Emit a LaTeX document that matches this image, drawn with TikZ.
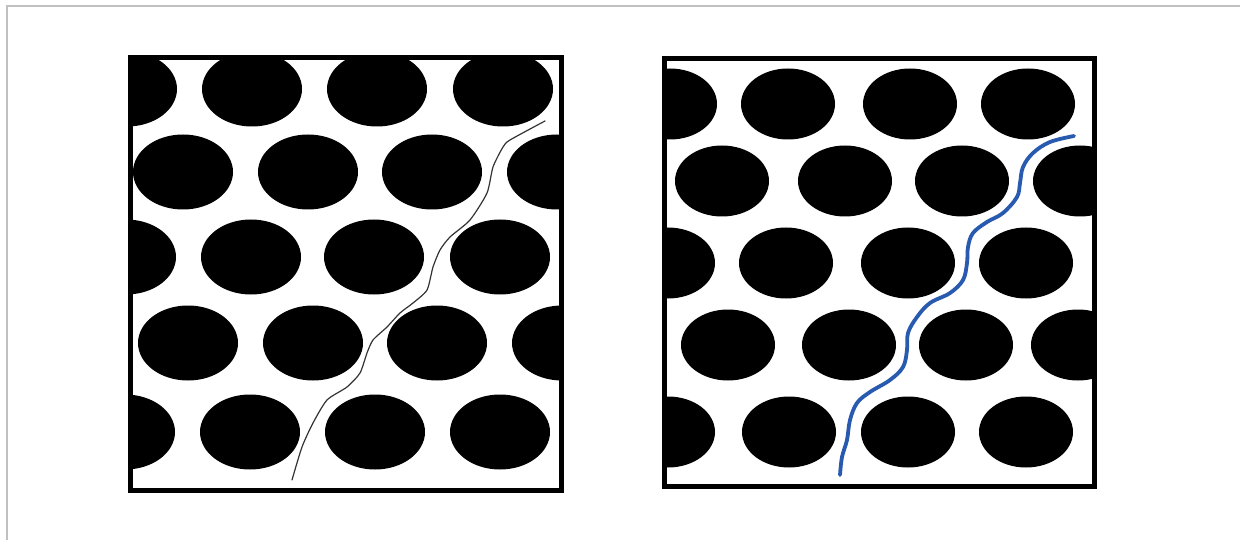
\documentclass[tikz,border=0pt]{standalone}
\begin{document}
\begin{tikzpicture}[x=1pt,y=-1pt,
  frame/.style={draw=black,line width=4.5pt},
  dot/.style={fill=black},
  crackline/.style={draw=black!80,line width=1.2pt,line join=round,line cap=round},
  bluepath/.style={draw={rgb,255:red,40;green,90;blue,175},line width=3.8pt,line cap=round,line join=round}]
\useasboundingbox (0,0) rectangle (1240,540);
\fill[white] (0,0) rectangle (1240,540);
% outer gray border (only top and left visible)
\draw[draw={rgb,255:red,192;green,192;blue,192},line width=2pt] (7,545) -- (7,6) -- (1245,6);

% ---------- left panel ----------
\begin{scope}
\clip (130.5,57.5) rectangle (561.5,490.5);
\foreach \x/\y in {127/89,252/89,377/89,503/89,
                   183/172,308/172,432/172,557/172,
                   126/257,251/257,374/257,500/257,
                   188/343,313/343,437/343,562/343,
                   125/432,250/432,375/432,500/432}
  \fill[dot] (\x,\y) ellipse [x radius=50,y radius=37.5];
\end{scope}
\draw[crackline] plot[smooth,tension=0.4] coordinates {
 (545,121) (510,140) (503,147) (493,167) (487,193) (470,220) (450,237)
 (440,250) (433,267) (427,290) (413,303) (400,313) (387,327) (373,340)
 (367,353) (360,373) (347,387) (327,400) (313,423) (302,447) (292,480)};
\draw[frame] (130.5,57.5) rectangle (561.5,490.5);

% ---------- right panel ----------
\begin{scope}
\clip (664.5,58.5) rectangle (1094.5,486.5);
\foreach \x/\y in {670/104,788/104,910/104,1028/104,
                   722/181,845/181,962/181,1080/181,
                   668/263,786/263,908/263,1026/263,
                   728/345,849/345,966/345,1078/345,
                   668/432,789/432,908/432,1026/432}
  \fill[dot] (\x,\y) ellipse [x radius=47,y radius=35.5];
\end{scope}
\draw[bluepath] plot[smooth,tension=0.6] coordinates {
 (1074,136) (1050,142) (1033,153) (1023,167) (1020,183) (1017,197)
 (1003,213) (987,222) (973,233) (968,247) (967,263) (963,280) (950,293)
 (930,303) (917,317) (908,333) (907,350) (903,367) (890,380) (870,392)
 (857,403) (850,420) (847,440) (842,457) (840,475)};
\draw[frame] (664.5,58.5) rectangle (1094.5,486.5);
\end{tikzpicture}
\end{document}
